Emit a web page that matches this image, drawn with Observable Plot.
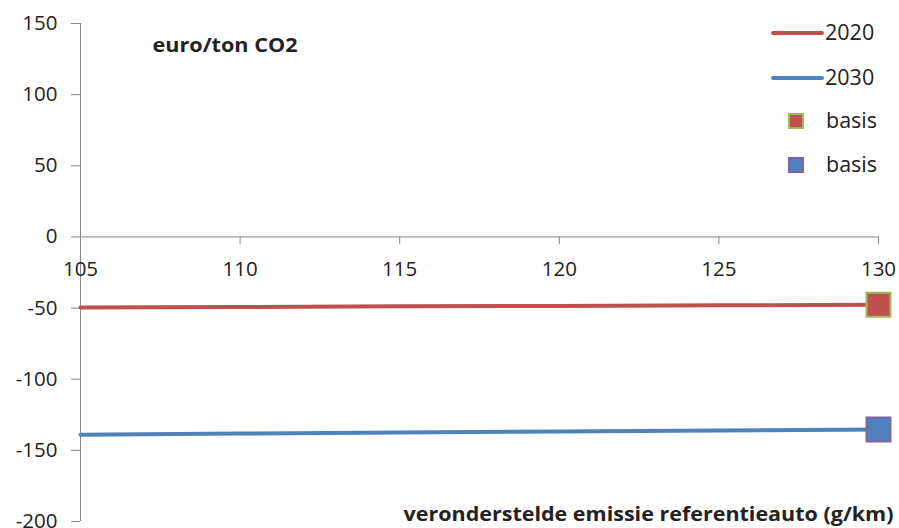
<!DOCTYPE html>
<html>
<head>
<meta charset="utf-8">
<script src="https://cdn.jsdelivr.net/npm/d3@7"></script>
<script src="https://cdn.jsdelivr.net/npm/@observablehq/plot@0.6"></script>
<style>
  html, body { margin: 0; padding: 0; background: #fff; }
  #wrap { position: relative; width: 899px; height: 528px; font-family: "Open Sans", "Liberation Sans", sans-serif; color: #222; }
  .leg { position: absolute; font-size: 21.5px; line-height: 22px; }
  .legline { position: absolute; height: 4px; border-radius: 2px; }
  .legsq { position: absolute; width: 12px; height: 12px; border: 2px solid; }
</style>
</head>
<body>
<div id="wrap"></div>
<script>
const emissie = [105, 110, 115, 120, 125, 130];
const kosten2020 = [-49.6, -49.2, -48.8, -48.5, -48.1, -47.7];
const kosten2030 = [-139.0, -138.2, -137.4, -136.7, -136.0, -135.4];
const basisX = [130];
const basis2020 = [-47.7];
const basis2030 = [-135.4];
const xTicks = [105, 110, 115, 120, 125, 130];
const yTicks = [-200, -150, -100, -50, 0, 50, 100, 150];
const seriesNames = ["2020", "2030"];
const basisLabels = ["basis", "basis"];
const yLabel = "euro/ton CO2";
const xLabel = "veronderstelde emissie referentieauto (g/km)";

const red = "#C0504D", blue = "#4F81BD", green = "#9BBB59", purple = "#8064A2", axisCol = "#868686";

const rows2020 = emissie.map((x, i) => ({x, y: kosten2020[i]}));
const rows2030 = emissie.map((x, i) => ({x, y: kosten2030[i]}));
const b2020 = basisX.map((x, i) => ({x, y: basis2020[i]}));
const b2030 = basisX.map((x, i) => ({x, y: basis2030[i]}));

const chart = Plot.plot({
  width: 899,
  height: 528,
  marginLeft: 80,
  marginRight: 21,
  marginTop: 23,
  marginBottom: 7,
  style: {fontFamily: "'Open Sans', 'Liberation Sans', sans-serif", fontSize: "20.5px", color: "#222", background: "#fff", overflow: "visible"},
  x: {type: "linear", domain: [105, 130], axis: null},
  y: {type: "linear", domain: [-200, 150], axis: null},
  marks: [
    Plot.axisY({ticks: yTicks, tickSize: 9, tickPadding: 14, fontSize: 20.5, stroke: axisCol, color: "#222", tickFormat: d => String(d), label: null}),
    Plot.ruleX([105], {stroke: axisCol, strokeWidth: 1}),
    Plot.ruleY([0], {stroke: axisCol, strokeWidth: 1}),
    Plot.ruleX(xTicks, {x: d => d, y1: 0, y2: -5.5, stroke: axisCol, strokeWidth: 1}),
    Plot.text(xTicks, {x: d => d, y: 0, text: d => String(d), dy: 33, fontSize: 20.5, fill: "#222"}),
    Plot.line(rows2020, {x: "x", y: "y", stroke: red, strokeWidth: 4}),
    Plot.line(rows2030, {x: "x", y: "y", stroke: blue, strokeWidth: 4}),
    Plot.dot(b2020, {x: "x", y: "y", symbol: "square", r: 13.5, fill: red, stroke: green, strokeWidth: 2}),
    Plot.dot(b2030, {x: "x", y: "y", symbol: "square", r: 13.5, fill: blue, stroke: purple, strokeWidth: 2}),
    Plot.text([yLabel], {frameAnchor: "top-left", dx: 72, dy: 22, lineAnchor: "middle", fontWeight: "bold", fontSize: 20, fill: "#222", textAnchor: "start", className: "ylab"}),
    Plot.text([xLabel], {frameAnchor: "bottom-right", dx: 15, dy: -7, lineAnchor: "middle", fontWeight: "bold", fontSize: 20, fill: "#222", textAnchor: "end", className: "xlab"})
  ]
});
const wrap = document.getElementById("wrap");
wrap.appendChild(chart);
// stretch axis titles to the reference's widths
d3.select(chart).selectAll("g.ylab text").attr("textLength", 145).attr("lengthAdjust", "spacingAndGlyphs");
d3.select(chart).selectAll("g.xlab text").attr("textLength", 490).attr("lengthAdjust", "spacingAndGlyphs");

// Legend
const legItems = [
  {type: "line", color: red, label: seriesNames[0], top: 31},
  {type: "line", color: blue, label: seriesNames[1], top: 76},
  {type: "sq", color: red, border: green, label: basisLabels[0], top: 121},
  {type: "sq", color: blue, border: purple, label: basisLabels[1], top: 165}
];
legItems.forEach(it => {
  if (it.type === "line") {
    const l = document.createElement("div");
    l.className = "legline";
    l.style.left = "771px"; l.style.width = "53px"; l.style.top = it.top + "px"; l.style.background = it.color;
    wrap.appendChild(l);
    const t = document.createElement("div");
    t.className = "leg"; t.textContent = it.label;
    t.style.left = "825px"; t.style.top = (it.top - 10) + "px";
    wrap.appendChild(t);
  } else {
    const s = document.createElement("div");
    s.className = "legsq";
    s.style.left = "788px"; s.style.top = (it.top - 8) + "px"; s.style.background = it.color; s.style.borderColor = it.border;
    wrap.appendChild(s);
    const t = document.createElement("div");
    t.className = "leg"; t.textContent = it.label;
    t.style.left = "826px"; t.style.top = (it.top - 12) + "px";
    wrap.appendChild(t);
  }
});
</script>
</body>
</html>
